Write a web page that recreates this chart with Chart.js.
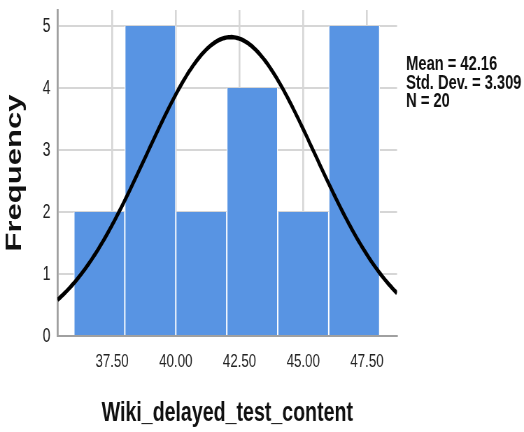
<!DOCTYPE html>
<html>
<head>
<meta charset="utf-8">
<script src="https://cdn.jsdelivr.net/npm/chart.js@4/dist/chart.umd.min.js"></script>
<style>
  html, body { margin: 0; padding: 0; background: #fff; overflow: hidden; }
  /* the histogram is laid out on a wider canvas and narrowed horizontally */
  #wrap { width: 749px; height: 432px; transform: scaleX(0.6996); transform-origin: 0 0; }
</style>
</head>
<body>
<div id="wrap"><canvas id="hist" width="749" height="432"></canvas></div>
<script>
// Histogram of Wiki_delayed_test_content (bins of width 2)
const binCenters = [37, 39, 41, 43, 45, 47];
const frequencies = [2, 5, 2, 4, 2, 5];
const xTickValues = [37.5, 40, 42.5, 45, 47.5];
const yTickValues = [0, 1, 2, 3, 4, 5];

// Descriptive statistics shown beside the plot
const mean = 42.16;
const stdDev = 3.309;
const count = 20;
const binWidth = 2;

const xMin = 35.36, xMax = 48.68, yMax = 5.26;

const statLines = [
  'Mean = ' + mean.toFixed(2),
  'Std. Dev. = ' + stdDev.toFixed(3),
  'N = ' + count
];

// Normal curve with the stated mean and standard deviation, scaled to counts per bin
const normalCurve = [];
const steps = 240;
for (let i = 0; i <= steps; i++) {
  const x = xMin + (xMax - xMin) * i / steps;
  const z = (x - mean) / stdDev;
  normalCurve.push({ x: x, y: count * binWidth / (stdDev * Math.sqrt(2 * Math.PI)) * Math.exp(-z * z / 2) });
}

const FONT = '"Liberation Sans", Arial, sans-serif';

const statsPlugin = {
  id: 'stats',
  afterDraw(chart) {
    const ctx = chart.ctx;
    ctx.save();
    ctx.font = 'bold 21px ' + FONT;
    ctx.fillStyle = '#111';
    ctx.textAlign = 'left';
    ctx.textBaseline = 'alphabetic';
    statLines.forEach((t, i) => ctx.fillText(t, chart.chartArea.right + 13, 70 + i * 18.5));
    ctx.restore();
  }
};

new Chart(document.getElementById('hist'), {
  type: 'bar',
  data: {
    datasets: [
      {
        type: 'line',
        data: normalCurve,
        borderColor: '#000',
        borderWidth: 4.5,
        pointRadius: 0,
        tension: 0,
        fill: false,
        order: 0
      },
      {
        type: 'bar',
        data: binCenters.map((c, i) => ({ x: c, y: frequencies[i] })),
        backgroundColor: '#5894e3',
        borderColor: '#ffffff',
        borderWidth: { left: 1.3, right: 1.3, top: 0, bottom: 0 },
        borderSkipped: false,
        barPercentage: 1,
        categoryPercentage: 1,
        order: 1
      }
    ]
  },
  options: {
    responsive: false,
    animation: false,
    layout: { padding: { left: 0, top: 10, right: 181.5, bottom: 0 } },
    plugins: { legend: { display: false }, tooltip: { enabled: false } },
    scales: {
      x: {
        type: 'linear',
        min: xMin,
        max: xMax,
        offset: false,
        afterBuildTicks: s => { s.ticks = xTickValues.map(v => ({ value: v })); },
        afterFit: s => { s.height = 96; s.paddingLeft = 0; s.paddingRight = 0; },
        grid: { offset: false, color: '#d6d6d6', lineWidth: 2.6, drawTicks: false },
        border: { display: true, color: '#a0a0a0', width: 2 },
        ticks: {
          padding: 14,
          color: '#222',
          font: { family: FONT, size: 19 },
          maxRotation: 0,
          callback: v => Number(v).toFixed(2)
        },
        title: {
          display: true,
          text: 'Wiki_delayed_test_content',
          color: '#111',
          font: { family: FONT, size: 28, weight: 'bold', lineHeight: 1.2 },
          padding: { top: 0, bottom: 2 }
        }
      },
      y: {
        min: 0,
        max: yMax,
        afterBuildTicks: s => { s.ticks = yTickValues.map(v => ({ value: v })); },
        afterFit: s => { s.width = 82.2; s.paddingTop = 0; s.paddingBottom = 0; },
        grid: { color: '#d6d6d6', lineWidth: 2, drawTicks: false },
        border: { display: true, color: '#a0a0a0', width: 2.8 },
        ticks: {
          padding: 10,
          color: '#222',
          font: { family: FONT, size: 20 }
        },
        title: {
          display: true,
          text: 'Frequency',
          color: '#111',
          font: { family: FONT, size: 31, weight: 'bold', lineHeight: 1.2 },
          padding: { top: 3, bottom: 0 }
        }
      }
    }
  },
  plugins: [statsPlugin]
});
</script>
</body>
</html>
